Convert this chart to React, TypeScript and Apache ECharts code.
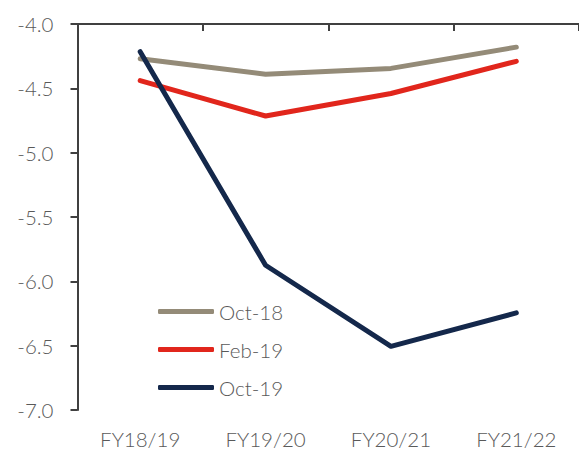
import React, { useEffect, useRef } from "react";
import * as echarts from "echarts";

const categories = ["FY18/19", "FY19/20", "FY20/21", "FY21/22"];
const oct18 = [-4.27, -4.39, -4.345, -4.18];
const feb19 = [-4.44, -4.715, -4.54, -4.29];
const oct19 = [-4.215, -5.875, -6.505, -6.245];
const yTicks = { min: -7, max: -4, interval: 0.5 };

const FONT = "Lato, 'Open Sans', sans-serif";

export default function App() {
  const ref = useRef<HTMLDivElement>(null);
  useEffect(() => {
    if (!ref.current) return;
    const chart = echarts.init(ref.current, undefined, { renderer: "svg" });
    const mkLine = (name: string, data: number[], color: string) => ({
      name,
      type: "line",
      data,
      xAxisIndex: 0,
      symbol: "none",
      lineStyle: { color, width: 5, cap: "round", join: "round" },
      itemStyle: { color },
    });
    chart.setOption({
      animation: false,
      backgroundColor: "#ffffff",
      grid: { left: 77.5, top: 24, right: -7.3, bottom: 40, containLabel: false },
      legend: {
        orient: "vertical",
        left: 158,
        top: 301,
        padding: 0,
        icon: "roundRect",
        itemWidth: 56,
        itemHeight: 5,
        itemGap: 17,
        textStyle: { fontFamily: FONT, fontSize: 20.5, lineHeight: 20, color: "#595959", fontWeight: 300 },
        data: ["Oct-18", "Feb-19", "Oct-19"],
      },
      xAxis: [
        {
          type: "category",
          data: categories,
          position: "bottom",
          boundaryGap: true,
          axisLine: { show: false },
          axisTick: { show: false },
          axisLabel: { fontFamily: FONT, fontSize: 20.5, color: "#595959", margin: 18, fontWeight: 300 },
        },
        {
          type: "category",
          data: categories,
          position: "top",
          boundaryGap: true,
          axisLine: { show: true, onZero: false, lineStyle: { color: "#404040", width: 2 } },
          axisTick: { show: true, inside: true, length: 7, lineStyle: { color: "#404040", width: 2 } },
          axisLabel: { show: false },
        },
      ],
      yAxis: {
        type: "value",
        min: yTicks.min,
        max: yTicks.max,
        interval: yTicks.interval,
        axisLine: { show: true, lineStyle: { color: "#404040", width: 2 } },
        axisTick: { show: true, length: 7, lineStyle: { color: "#404040", width: 2 } },
        splitLine: { show: false },
        axisLabel: {
          fontFamily: FONT,
          fontSize: 20.5,
          color: "#595959",
          margin: 24,
          fontWeight: 300,
          formatter: (v: number) => v.toFixed(1),
        },
      },
      series: [
        mkLine("Oct-18", oct18, "#948B78"),
        mkLine("Feb-19", feb19, "#E1261C"),
        mkLine("Oct-19", oct19, "#14284B"),
      ],
    });
    return () => chart.dispose();
  }, []);
  return (
    <div
      ref={ref}
      style={{ position: "fixed", left: 0, top: 0, width: 579, height: 450, background: "#fff" }}
    />
  );
}
